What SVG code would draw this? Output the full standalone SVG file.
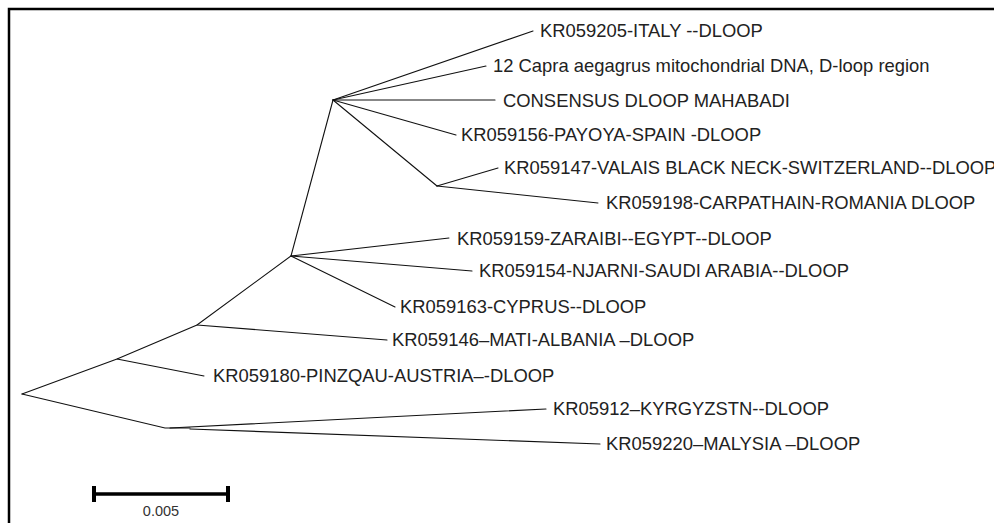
<svg xmlns="http://www.w3.org/2000/svg" width="994" height="523" viewBox="0 0 994 523">
<style>
.br{stroke:#111;stroke-width:1.1;fill:none;stroke-linecap:round}
.lb{font-family:"Liberation Sans",Arial,sans-serif;font-size:18.4px;fill:#222}
.fr{stroke:#000;stroke-width:2.5;fill:none}
.sc{stroke:#000;fill:none}
</style>
<rect width="994" height="523" fill="#fff"/>
<path class="fr" d="M9,523 V9 H994"/>
<g id="connectors">
<path class="br" d="M22,394 L117,359 L197,325 L291,256 L333,100"/>
<path class="br" d="M22,394 L165,428 H190"/>
<path class="br" d="M333,100 L533,31"/>
<path class="br" d="M333,100 L486,66"/>
<path class="br" d="M333,100 L495,100"/>
<path class="br" d="M333,100 L456,135"/>
<path class="br" d="M333,100 L437,186"/>
<path class="br" d="M437,186 L498,168"/>
<path class="br" d="M437,186 L598,203"/>
<path class="br" d="M291,256 L449,238"/>
<path class="br" d="M291,256 L472,271"/>
<path class="br" d="M291,256 L395,307"/>
<path class="br" d="M197,325 L387,340"/>
<path class="br" d="M117,359 L204,376"/>
<path class="br" d="M170,428 L546,409"/>
<path class="br" d="M190,429 L600,444"/>
</g>
<g id="n-italy"><text class="lb" x="540" y="37">KR059205-ITALY --DLOOP</text></g>
<g id="n-capra"><text class="lb" x="493" y="72">12 Capra aegagrus mitochondrial DNA, D-loop region</text></g>
<g id="n-consensus"><text class="lb" x="503" y="107">CONSENSUS DLOOP MAHABADI</text></g>
<g id="n-payoya"><text class="lb" x="461" y="141">KR059156-PAYOYA-SPAIN -DLOOP</text></g>
<g id="n-valais"><text class="lb" x="504" y="174">KR059147-VALAIS BLACK NECK-SWITZERLAND--DLOOP</text></g>
<g id="n-carpathain"><text class="lb" x="606" y="209">KR059198-CARPATHAIN-ROMANIA DLOOP</text></g>
<g id="n-zaraibi"><text class="lb" x="457" y="245">KR059159-ZARAIBI--EGYPT--DLOOP</text></g>
<g id="n-njarni"><text class="lb" x="479" y="277">KR059154-NJARNI-SAUDI ARABIA--DLOOP</text></g>
<g id="n-cyprus"><text class="lb" x="400" y="313">KR059163-CYPRUS--DLOOP</text></g>
<g id="n-mati"><text class="lb" x="392" y="346">KR059146–MATI-ALBANIA –DLOOP</text></g>
<g id="n-pinzqau"><text class="lb" x="213" y="382">KR059180-PINZQAU-AUSTRIA–-DLOOP</text></g>
<g id="n-kyrgyzstn"><text class="lb" x="553" y="415">KR05912–KYRGYZSTN--DLOOP</text></g>
<g id="n-malysia"><text class="lb" x="606" y="450">KR059220–MALYSIA –DLOOP</text></g>
<g id="scale">
<path class="sc" stroke-width="3.5" d="M94,494 H228"/>
<path class="sc" stroke-width="4" d="M94,486 V502 M228,486 V502"/>
<text x="161" y="516" text-anchor="middle" font-family="Liberation Sans,Arial,sans-serif" font-size="14.5" fill="#333">0.005</text>
</g>
</svg>
